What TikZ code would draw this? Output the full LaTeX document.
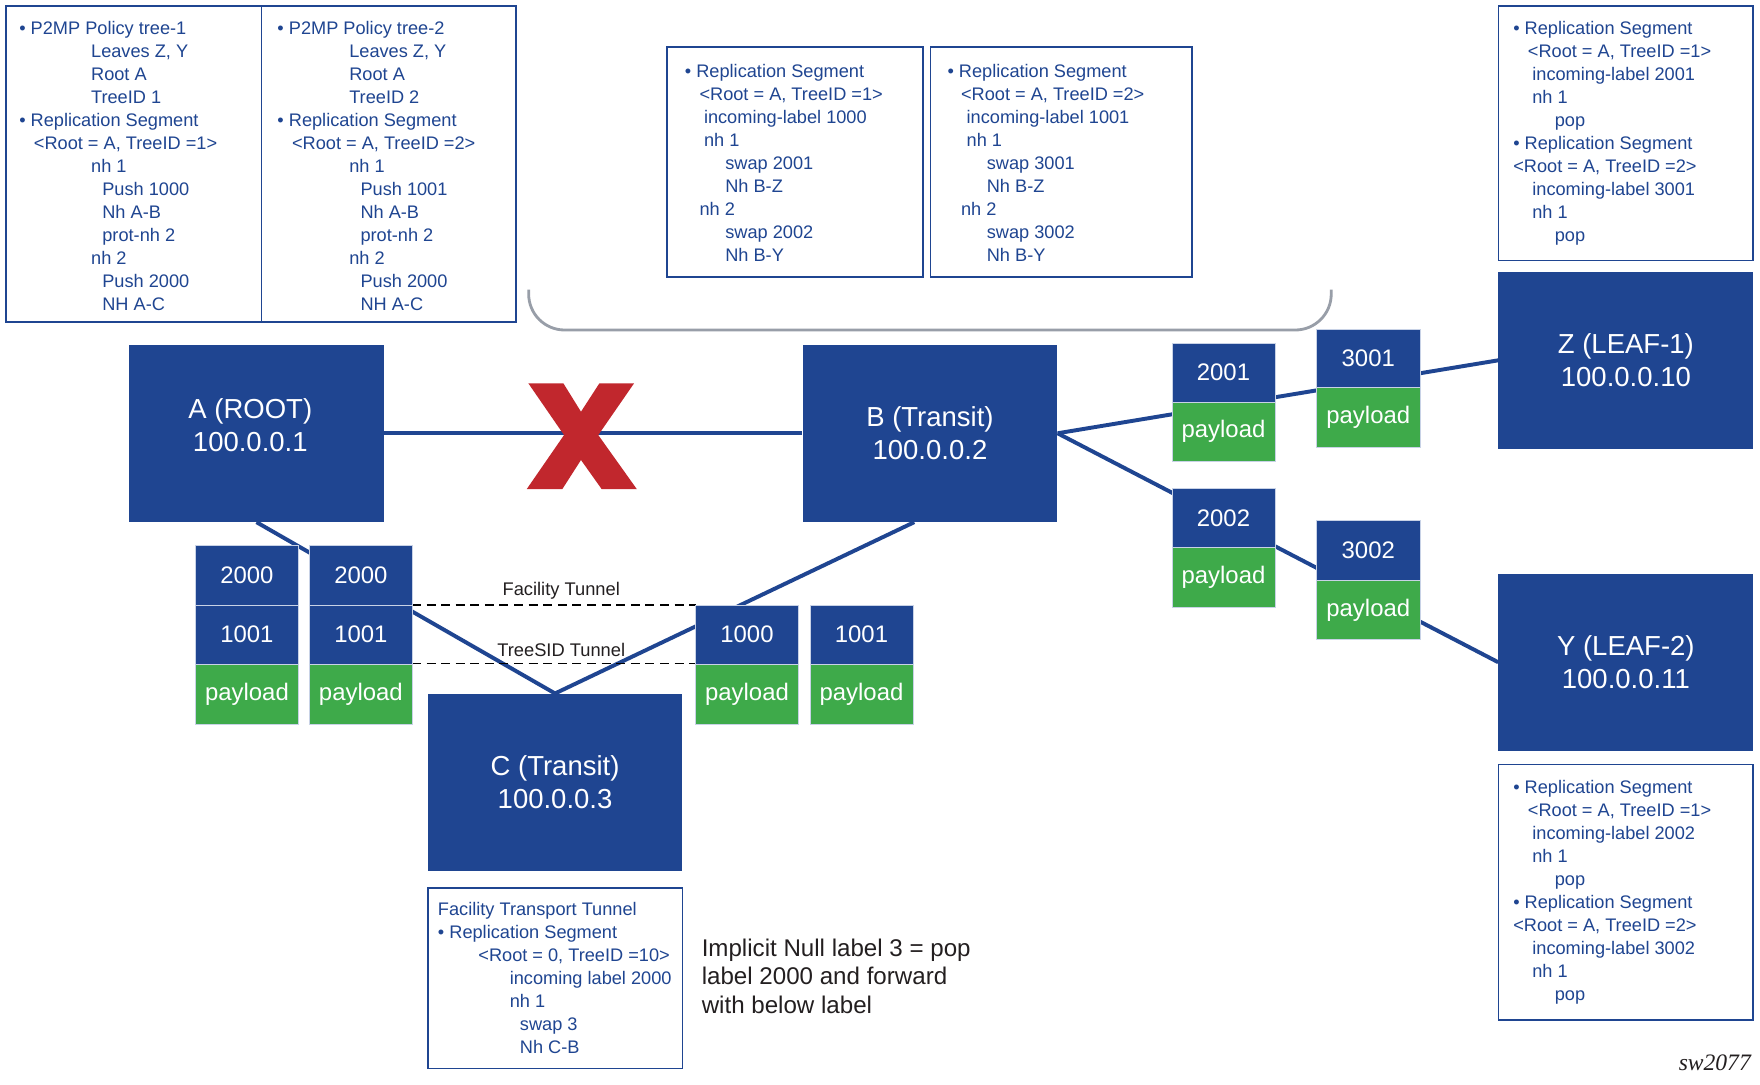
\documentclass[tikz,border=0pt]{standalone}
\usepackage{fontspec}
\setmainfont{Liberation Sans}
\newfontfamily\swfont{Liberation Serif}
\usetikzlibrary{calc}
\definecolor{nblue}{RGB}{31,69,145}
\definecolor{ngreen}{RGB}{62,170,74}
\definecolor{xred}{RGB}{193,39,45}
\definecolor{bgray}{RGB}{152,158,168}
\definecolor{tdark}{RGB}{35,31,32}
\definecolor{lborder}{RGB}{200,210,230}
\begin{document}
\begin{tikzpicture}[x=1pt,y=-1pt,
  router/.style={rectangle, fill=nblue, text=white, minimum width=227pt, minimum height=158pt, inner sep=0pt, align=center, font=\fontsize{24.5}{29}\selectfont},
  lbl/.style={rectangle, fill=nblue, draw=lborder, line width=0.6pt, text=white, minimum width=92pt, minimum height=53pt, inner sep=0pt, font=\fontsize{21.3}{24}\selectfont},
  pay/.style={lbl, fill=ngreen},
  infobox/.style={rectangle, draw=nblue, line width=1.6pt, inner sep=0pt},
  infotext/.style={text=nblue, anchor=north west, inner sep=0pt, align=left, font=\fontsize{16.2}{20.45}\selectfont},
  link/.style={draw=nblue, line width=3.5pt},
  tunnel/.style={draw=black, line width=1.4pt, dash pattern=on 8pt off 5pt},
  tlabel/.style={text=tdark, font=\fontsize{16.3}{19}\selectfont, inner sep=0pt},
]
\useasboundingbox[fill=white] (0,0) rectangle (1568,966.6);

% ---------- info boxes ----------
\node[infobox, minimum width=228pt, minimum height=282pt] (pol1) at (119,146) {};
\node[infobox, minimum width=227pt, minimum height=282pt] (pol2) at (346.5,146) {};
\node[infobox, minimum width=228pt, minimum height=205pt] (rsb1) at (708,144.5) {};
\node[infobox, minimum width=233pt, minimum height=205pt] (rsb2) at (945.5,144.5) {};
\node[infobox, minimum width=227pt, minimum height=227pt] (rsz) at (1448.5,118.5) {};
\node[infobox, minimum width=227pt, minimum height=228pt] (rsy) at (1448.5,795) {};
\node[infobox, minimum width=227pt, minimum height=161pt] (rsc) at (494.5,871.5) {};

\node[infotext] (t1) at (17,16.5) {\strut• P2MP Policy tree-1\\
\hspace*{64pt}Leaves Z, Y\\
\hspace*{64pt}Root A\\
\hspace*{64pt}TreeID 1\\
• Replication Segment\\
\hspace*{13pt}<Root = A, TreeID =1>\\
\hspace*{64pt}nh 1\\
\hspace*{74pt}Push 1000\\
\hspace*{74pt}Nh A-B\\
\hspace*{74pt}prot-nh 2\\
\hspace*{64pt}nh 2\\
\hspace*{74pt}Push 2000\\
\hspace*{74pt}NH A-C};

\node[infotext] (t2) at (247,16.5) {\strut• P2MP Policy tree-2\\
\hspace*{64pt}Leaves Z, Y\\
\hspace*{64pt}Root A\\
\hspace*{64pt}TreeID 2\\
• Replication Segment\\
\hspace*{13pt}<Root = A, TreeID =2>\\
\hspace*{64pt}nh 1\\
\hspace*{74pt}Push 1001\\
\hspace*{74pt}Nh A-B\\
\hspace*{74pt}prot-nh 2\\
\hspace*{64pt}nh 2\\
\hspace*{74pt}Push 2000\\
\hspace*{74pt}NH A-C};

\node[infotext] (t3) at (610,54.5) {\strut• Replication Segment\\
\hspace*{13pt}<Root = A, TreeID =1>\\
\hspace*{17pt}incoming-label 1000\\
\hspace*{17pt}nh 1\\
\hspace*{36pt}swap 2001\\
\hspace*{36pt}Nh B-Z\\
\hspace*{13pt}nh 2\\
\hspace*{36pt}swap 2002\\
\hspace*{36pt}Nh B-Y};

\node[infotext] (t4) at (844,54.5) {\strut• Replication Segment\\
\hspace*{12pt}<Root = A, TreeID =2>\\
\hspace*{17pt}incoming-label 1001\\
\hspace*{17pt}nh 1\\
\hspace*{35pt}swap 3001\\
\hspace*{35pt}Nh B-Z\\
\hspace*{12pt}nh 2\\
\hspace*{35pt}swap 3002\\
\hspace*{35pt}Nh B-Y};

\node[infotext] (t5) at (1348,16.5) {\strut• Replication Segment\\
\hspace*{13pt}<Root = A, TreeID =1>\\
\hspace*{17pt}incoming-label 2001\\
\hspace*{17pt}nh 1\\
\hspace*{37pt}pop\\
• Replication Segment\\
<Root = A, TreeID =2>\\
\hspace*{17pt}incoming-label 3001\\
\hspace*{17pt}nh 1\\
\hspace*{37pt}pop};

\node[infotext] (t6) at (1348,692.5) {\strut• Replication Segment\\
\hspace*{13pt}<Root = A, TreeID =1>\\
\hspace*{17pt}incoming-label 2002\\
\hspace*{17pt}nh 1\\
\hspace*{37pt}pop\\
• Replication Segment\\
<Root = A, TreeID =2>\\
\hspace*{17pt}incoming-label 3002\\
\hspace*{17pt}nh 1\\
\hspace*{37pt}pop};

\node[infotext] (t7) at (390,801.5) {\strut Facility Transport Tunnel\\
• Replication Segment\\
\hspace*{36pt}<Root = 0, TreeID =10>\\
\hspace*{64pt}incoming label 2000\\
\hspace*{64pt}nh 1\\
\hspace*{73pt}swap 3\\
\hspace*{73pt}Nh C-B};

% ---------- brace ----------
\coordinate (br1) at (471,258);
\coordinate (br2) at (471,294);
\coordinate (br3) at (1186,294);
\coordinate (br4) at (1186,258);
\draw[bgray, line width=2.5pt, rounded corners=32pt] (br1) -- (br2) -- (br3) -- (br4);

% ---------- routers ----------
\node[router, text depth=15pt] (A) at (228.5,386) {A (ROOT)\hspace*{11pt}\\100.0.0.1\hspace*{11pt}};
\node[router] (B) at (828.5,386) {B (Transit)\\100.0.0.2};
\node[router] (C) at (494.5,697) {C (Transit)\\100.0.0.3};
\node[router] (Z) at (1448.5,321) {Z (LEAF-1)\\100.0.0.10};
\node[router] (Y) at (1448.5,590) {Y (LEAF-2)\\100.0.0.11};

% ---------- links ----------
\draw[link] (A.east) -- (B.west);
\draw[link] (A.south) -- (C.north);
\draw[link] (C.north) -- ($(B.south)+(-14,0)$);
\draw[link] (B.east) -- (Z.west);
\draw[link] (B.east) -- (Y.west);

% ---------- tunnels ----------
\coordinate (ft1) at (367,539);
\coordinate (ft2) at (620,539);
\coordinate (ts1) at (367,591);
\coordinate (ts2) at (620,591);
\draw[tunnel] (ft1) -- (ft2);
\draw[tunnel] (ts1) -- (ts2);
\node[tlabel] (ftl) at (500,526) {Facility Tunnel};
\node[tlabel] (tsl) at (500,579) {TreeSID Tunnel};

% ---------- label stacks ----------
\node[lbl] (s1a) at (220,512.5) {2000};
\node[lbl] (s1b) at (220,565.5) {1001};
\node[pay] (s1c) at (220,618.5) {payload};
\node[lbl] (s2a) at (321.5,512.5) {2000};
\node[lbl] (s2b) at (321.5,565.5) {1001};
\node[pay] (s2c) at (321.5,618.5) {payload};
\node[lbl] (s3a) at (665.5,565.5) {1000};
\node[pay] (s3b) at (665.5,618.5) {payload};
\node[lbl] (s4a) at (767.5,565.5) {1001};
\node[pay] (s4b) at (767.5,618.5) {payload};
\node[lbl] (s5a) at (1090,332) {2001};
\node[pay] (s5b) at (1090,384.5) {payload};
\node[lbl] (s6a) at (1090,462) {2002};
\node[pay] (s6b) at (1090,514.5) {payload};
\node[lbl] (s7a) at (1219,319.5) {3001};
\node[pay] (s7b) at (1219,372) {payload};
\node[lbl] (s8a) at (1219,490.5) {3002};
\node[pay] (s8b) at (1219,543.5) {payload};

% ---------- red X ----------
\fill[xred] (470.7,341.5) -- (501.9,341.5) -- (517.6,366.8) -- (534,341.5) -- (564.9,341.5)
  -- (533,387.6) -- (567.3,435.7) -- (536,435.7) -- (517.6,409.8) -- (501,435.7)
  -- (469.3,435.7) -- (502.5,387.6) -- cycle;

% ---------- notes ----------
\node[anchor=north west, inner sep=0pt, align=left, text=tdark, font=\fontsize{21.5}{25.5}\selectfont] (note) at (625,833.9)
  {\strut Implicit Null label 3 = pop\\label 2000 and forward\\with below label};
\node[anchor=east, inner sep=0pt, text=tdark, font=\swfont\itshape\fontsize{21}{24}\selectfont] (sw) at (1560,947) {sw2077};
\end{tikzpicture}
\end{document}
